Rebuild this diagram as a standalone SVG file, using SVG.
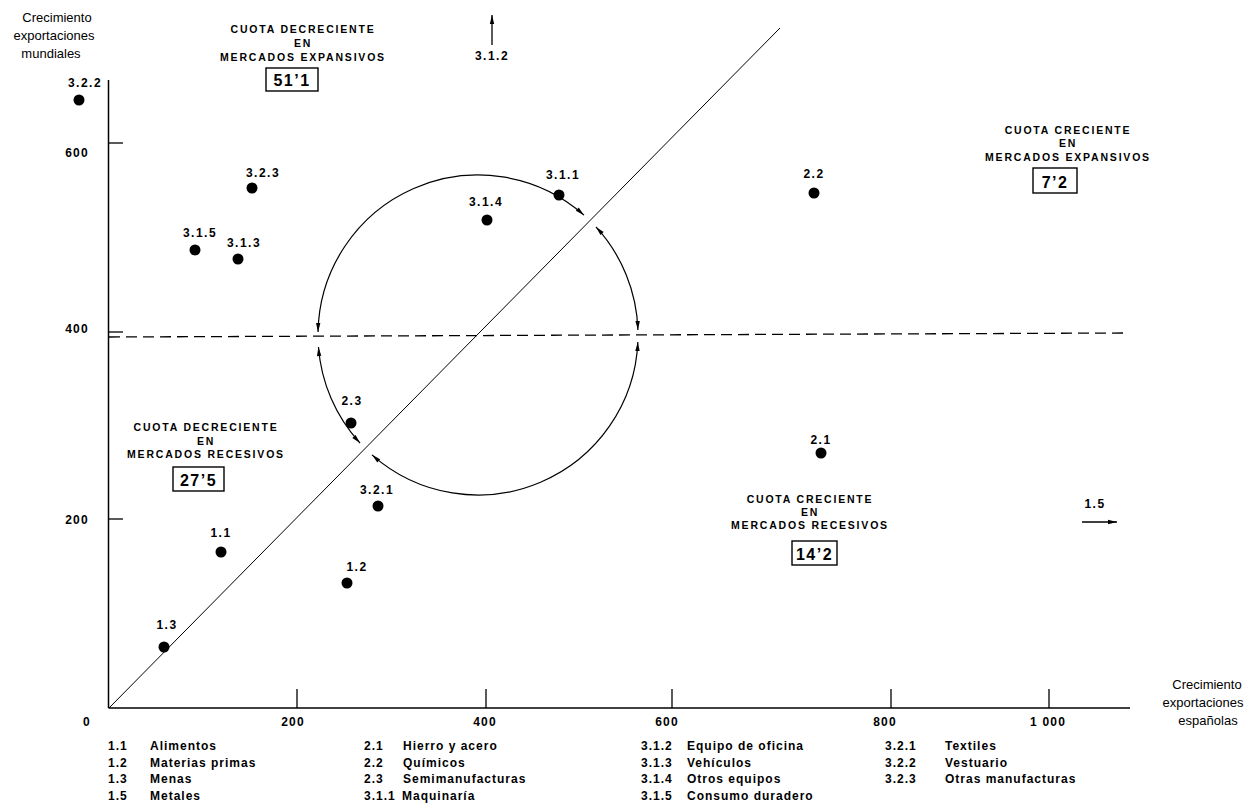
<svg xmlns="http://www.w3.org/2000/svg" width="1249" height="807" viewBox="0 0 1249 807">
<defs>
<style>
text{font-family:"Liberation Sans",Arial,sans-serif;fill:#000}
.ax{font-size:13px;text-anchor:middle}
.tk{font-size:12px;font-weight:bold;text-anchor:middle;letter-spacing:1.2px}
.pl{font-size:12px;font-weight:bold;text-anchor:middle;letter-spacing:1.5px}
.ql{font-size:10.5px;font-weight:bold;text-anchor:middle;letter-spacing:1.8px}
.bx{font-size:16px;font-weight:bold;text-anchor:middle;letter-spacing:1.5px}
.lg{font-size:12px;font-weight:bold;letter-spacing:1px}
.ln{fill:none;stroke:#000}
.box{fill:#fff;stroke:#000;stroke-width:1.4}
.dot{fill:#000}
</style>
<marker id="ah" viewBox="-10 -3 11 6" refX="0" refY="0" markerWidth="11" markerHeight="6" markerUnits="userSpaceOnUse" orient="auto-start-reverse">
<path d="M0,0 L-9,-2.2 L-9,2.2 Z" fill="#000"/>
</marker>
</defs>

<g id="axes">
<line class="ln" x1="108.5" y1="80" x2="108.5" y2="708" stroke-width="1.5"/>
<line class="ln" x1="108.5" y1="708" x2="1130" y2="708" stroke-width="1.5"/>
<line class="ln" x1="108.5" y1="143" x2="123" y2="143" stroke-width="1.3"/>
<line class="ln" x1="108.5" y1="332" x2="123" y2="332" stroke-width="1.3"/>
<line class="ln" x1="108.5" y1="519" x2="123" y2="519" stroke-width="1.3"/>
<line class="ln" x1="297" y1="689" x2="297" y2="708" stroke-width="1.3"/>
<line class="ln" x1="486" y1="689" x2="486" y2="708" stroke-width="1.3"/>
<line class="ln" x1="672" y1="689" x2="672" y2="708" stroke-width="1.3"/>
<line class="ln" x1="891" y1="689" x2="891" y2="708" stroke-width="1.3"/>
<line class="ln" x1="1049" y1="689" x2="1049" y2="708" stroke-width="1.3"/>
<text class="tk" x="87" y="726">0</text>
<text class="tk" x="293" y="726">200</text>
<text class="tk" x="485" y="726">400</text>
<text class="tk" x="667" y="726">600</text>
<text class="tk" x="885" y="726">800</text>
<text class="tk" x="1048" y="726">1 000</text>
<text class="tk" x="77" y="157">600</text>
<text class="tk" x="77" y="333">400</text>
<text class="tk" x="77" y="524">200</text>
<text class="ax" x="57" y="22">Crecimiento</text>
<text class="ax" x="54" y="40">exportaciones</text>
<text class="ax" x="51" y="58">mundiales</text>
<text class="ax" x="1207" y="689">Crecimiento</text>
<text class="ax" x="1203" y="707">exportaciones</text>
<text class="ax" x="1208" y="725">españolas</text>
</g>

<g id="connectors">
<line class="ln" x1="109" y1="708" x2="780" y2="28" stroke-width="1"/>
<line class="ln" x1="109" y1="337" x2="1128" y2="333" stroke-width="1.3" stroke-dasharray="11 6"/>
<path class="ln" stroke-width="1.2" marker-start="url(#ah)" marker-end="url(#ah)" d="M318.03,331.93 A160,160 0 0 1 584.02,215.17"/>
<path class="ln" stroke-width="1.2" marker-start="url(#ah)" marker-end="url(#ah)" d="M595.97,226.91 A160,160 0 0 1 637.92,329.97"/>
<path class="ln" stroke-width="1.2" marker-start="url(#ah)" marker-end="url(#ah)" d="M637.85,341.98 A160,160 0 0 1 371.98,454.83"/>
<path class="ln" stroke-width="1.2" marker-start="url(#ah)" marker-end="url(#ah)" d="M360.03,443.09 A160,160 0 0 1 318.45,347.0"/>
<line class="ln" x1="492" y1="45" x2="492" y2="15" stroke-width="1.3" marker-end="url(#ah)"/>
<line class="ln" x1="1082" y1="522" x2="1117" y2="522" stroke-width="1.3" marker-end="url(#ah)"/>
</g>

<g id="quadrant-tl">
<text class="ql" x="303" y="33">CUOTA DECRECIENTE</text>
<text class="ql" x="303" y="47">EN</text>
<text class="ql" x="303" y="61">MERCADOS EXPANSIVOS</text>
<rect class="box" x="266" y="68" width="52" height="23"/>
<text class="bx" x="292" y="86">51’1</text>
</g>
<g id="quadrant-tr">
<text class="ql" x="1068" y="134">CUOTA CRECIENTE</text>
<text class="ql" x="1068" y="147">EN</text>
<text class="ql" x="1068" y="161">MERCADOS EXPANSIVOS</text>
<rect class="box" x="1033" y="168" width="44" height="25"/>
<text class="bx" x="1055" y="188">7’2</text>
</g>
<g id="quadrant-bl">
<text class="ql" x="206" y="431">CUOTA DECRECIENTE</text>
<text class="ql" x="206" y="445">EN</text>
<text class="ql" x="206" y="458">MERCADOS RECESIVOS</text>
<rect class="box" x="173" y="467" width="51" height="24"/>
<text class="bx" x="198.5" y="486">27’5</text>
</g>
<g id="quadrant-br">
<text class="ql" x="810" y="503">CUOTA CRECIENTE</text>
<text class="ql" x="810" y="516">EN</text>
<text class="ql" x="810" y="529">MERCADOS RECESIVOS</text>
<rect class="box" x="792" y="541" width="45" height="24"/>
<text class="bx" x="814.5" y="560">14’2</text>
</g>

<g id="p-3.2.2"><text class="pl" x="85" y="87">3.2.2</text><circle class="dot" cx="79" cy="100" r="5.5"/></g>
<g id="p-3.2.3"><text class="pl" x="263" y="177">3.2.3</text><circle class="dot" cx="252" cy="188" r="5.5"/></g>
<g id="p-3.1.5"><text class="pl" x="200" y="237">3.1.5</text><circle class="dot" cx="195" cy="250" r="5.5"/></g>
<g id="p-3.1.3"><text class="pl" x="244" y="247">3.1.3</text><circle class="dot" cx="238" cy="259" r="5.5"/></g>
<g id="p-3.1.4"><text class="pl" x="486" y="206">3.1.4</text><circle class="dot" cx="487" cy="220" r="5.5"/></g>
<g id="p-3.1.1"><text class="pl" x="563" y="179">3.1.1</text><circle class="dot" cx="559" cy="195" r="5.5"/></g>
<g id="p-2.2"><text class="pl" x="814" y="178">2.2</text><circle class="dot" cx="814" cy="193" r="5.5"/></g>
<g id="p-2.3"><text class="pl" x="352" y="405">2.3</text><circle class="dot" cx="351" cy="423" r="5.5"/></g>
<g id="p-3.2.1"><text class="pl" x="377" y="494">3.2.1</text><circle class="dot" cx="378" cy="506" r="5.5"/></g>
<g id="p-1.1"><text class="pl" x="221" y="537">1.1</text><circle class="dot" cx="221" cy="552" r="5.5"/></g>
<g id="p-1.2"><text class="pl" x="357" y="571">1.2</text><circle class="dot" cx="347" cy="583" r="5.5"/></g>
<g id="p-1.3"><text class="pl" x="167" y="629">1.3</text><circle class="dot" cx="164" cy="647" r="5.5"/></g>
<g id="p-2.1"><text class="pl" x="821" y="444">2.1</text><circle class="dot" cx="821" cy="453" r="5.5"/></g>
<g id="p-1.5"><text class="pl" x="1095" y="508">1.5</text></g>
<g id="p-3.1.2"><text class="pl" x="492" y="60">3.1.2</text></g>

<g id="legend">
<text class="lg" x="108" y="750">1.1</text><text class="lg" x="150" y="750">Alimentos</text>
<text class="lg" x="108" y="767">1.2</text><text class="lg" x="150" y="767">Materias primas</text>
<text class="lg" x="108" y="783">1.3</text><text class="lg" x="150" y="783">Menas</text>
<text class="lg" x="108" y="800">1.5</text><text class="lg" x="150" y="800">Metales</text>
<text class="lg" x="364" y="750">2.1</text><text class="lg" x="403" y="750">Hierro y acero</text>
<text class="lg" x="364" y="767">2.2</text><text class="lg" x="403" y="767">Químicos</text>
<text class="lg" x="364" y="783">2.3</text><text class="lg" x="403" y="783">Semimanufacturas</text>
<text class="lg" x="364" y="800">3.1.1</text><text class="lg" x="402" y="800">Maquinaría</text>
<text class="lg" x="641" y="750">3.1.2</text><text class="lg" x="687" y="750">Equipo de oficina</text>
<text class="lg" x="641" y="767">3.1.3</text><text class="lg" x="687" y="767">Vehículos</text>
<text class="lg" x="641" y="783">3.1.4</text><text class="lg" x="687" y="783">Otros equipos</text>
<text class="lg" x="641" y="800">3.1.5</text><text class="lg" x="687" y="800">Consumo duradero</text>
<text class="lg" x="885" y="750">3.2.1</text><text class="lg" x="945" y="750">Textiles</text>
<text class="lg" x="885" y="767">3.2.2</text><text class="lg" x="945" y="767">Vestuario</text>
<text class="lg" x="885" y="783">3.2.3</text><text class="lg" x="945" y="783">Otras manufacturas</text>
</g>
</svg>
